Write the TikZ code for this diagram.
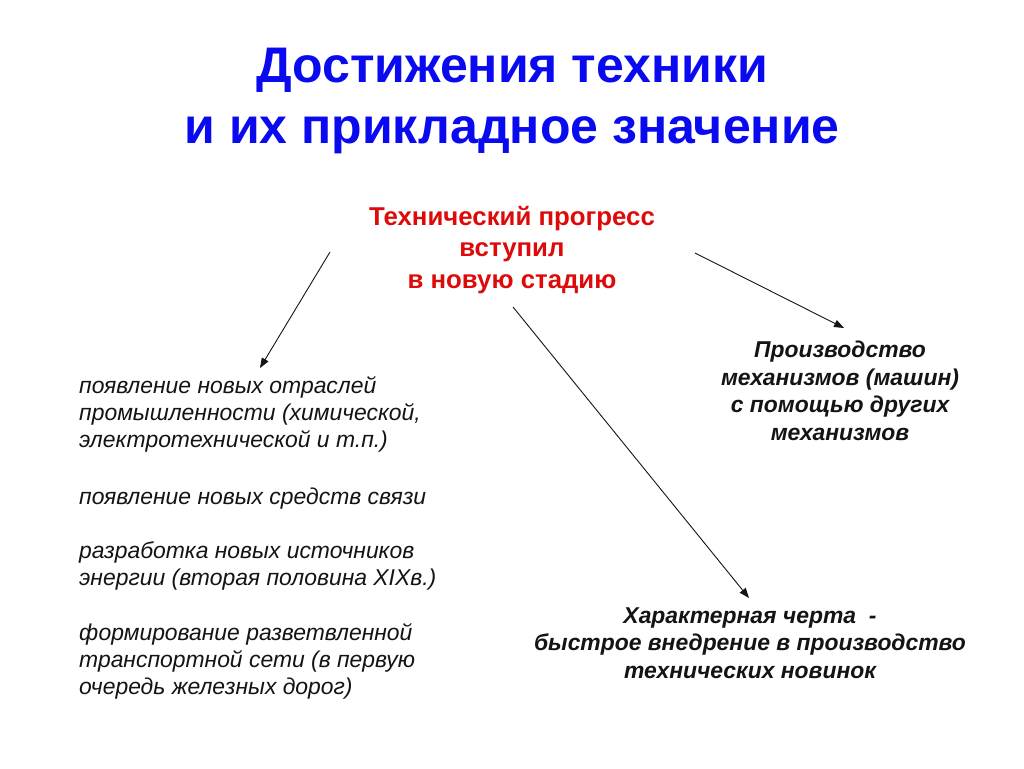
\documentclass[tikz,border=0pt]{standalone}
\usepackage{fontspec}
\setmainfont{Liberation Sans}
\usepackage{tikz}
\usetikzlibrary{arrows.meta, positioning}
\definecolor{myblue}{RGB}{10,10,240}
\definecolor{myred}{RGB}{222,10,10}
\definecolor{mydark}{RGB}{20,20,20}
\tikzset{
  title/.style={align=center, font=\fontsize{50}{61}\selectfont\bfseries,
    text=myblue, inner sep=0pt},
  redtext/.style={align=center, font=\fontsize{25.8}{31.5}\selectfont\bfseries,
    text=myred, inner sep=0pt},
  boldnote/.style={align=center, font=\fontsize{22.9}{27.5}\selectfont\bfseries\itshape,
    text=mydark, inner sep=0pt},
  listitem/.style={align=left, anchor=north west, font=\fontsize{22.9}{27}\selectfont\itshape,
    text=mydark, inner sep=0pt},
  arrow/.style={-{Triangle[length=10pt, width=7.5pt]}, line width=0.9pt, color=mydark}
}

\begin{document}
\begin{tikzpicture}[x=1pt, y=-1pt]
  \useasboundingbox[fill=white] (0,0) rectangle (1024,768);

  % Title
  \node[title] (head) at (512,101) {Достижения техники\\и их прикладное значение};

  % Central statement
  \node[redtext] (prog) at (512,250) {Технический прогресс\\вступил\\в новую стадию};

  % Right and bottom notes
  \node[boldnote] (mech) at (840,391) {Производство\\механизмов (машин)\\с помощью других\\механизмов};
  \node[boldnote] (trait) at (750,643) {Характерная черта \ -\\быстрое внедрение в производство\\технических новинок};

  % Left list
  \node[listitem] (list1) at (79,376) {появление новых отраслей\\промышленности (химической,\\электротехнической и т.п.)};
  \node[listitem] (list2) at (79,487.5) {появление новых средств связи};
  \node[listitem] (list3) at (79,541.5) {разработка новых источников\\энергии (вторая половина XIXв.)};
  \node[listitem] (list4) at (79,623) {формирование разветвленной\\транспортной сети (в первую\\очередь железных дорог)};

  % Arrow ends
  \coordinate (l_from) at (330,252);
  \coordinate (l_to) at (260,368);
  \coordinate (r_from) at (695,253);
  \coordinate (r_to) at (844,328);
  \coordinate (m_from) at (513,307);
  \coordinate (m_to) at (749,598);

  \draw[arrow] (l_from) -- (l_to);
  \draw[arrow] (r_from) -- (r_to);
  \draw[arrow] (m_from) -- (m_to);
\end{tikzpicture}
\end{document}
